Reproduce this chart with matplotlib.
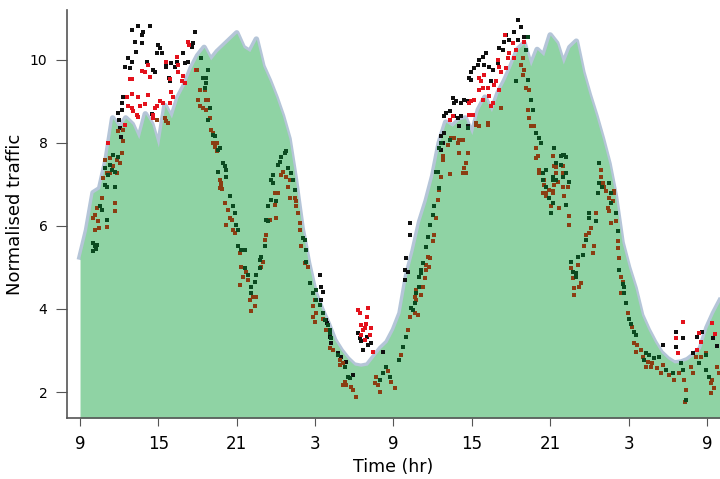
import matplotlib.pyplot as plt
import numpy as np

# hours since 09:00 of day 1, half-hour steps
hours = np.arange(0, 49.01, 0.5)
traffic = [
    5.25, 5.9, 6.8, 6.9, 7.6, 8.6, 8.35, 8.6, 8.45, 8.1,
    8.7, 8.45, 7.9, 8.9, 8.6, 9.1, 9.4, 9.8, 10.1, 10.3,
    10.0, 10.2, 10.35, 10.5, 10.65, 10.3, 10.2, 10.5, 9.85, 9.5,
    9.1, 8.65, 8.1, 7.1, 5.95, 5.1, 4.4, 4.0, 3.65, 3.25,
    3.0, 2.8, 2.65, 2.62, 2.65, 2.85, 3.05, 3.2, 3.5, 3.9,
    4.8, 5.4, 6.1, 6.6, 7.2, 8.0, 8.5, 8.4, 8.55, 8.6,
    8.2, 8.8, 9.1, 8.75, 9.2, 9.5, 9.85, 10.25, 10.4, 9.85,
    10.25, 10.1, 10.6, 10.4, 9.9, 10.3, 10.45, 9.7, 9.15, 8.65,
    8.1, 7.5, 6.7, 5.6, 5.0, 4.5, 3.85, 3.5, 3.2, 2.95,
    2.8, 2.7, 2.72, 2.78, 2.9, 3.05, 3.55, 3.9, 4.2]

# observed points (hour, normalised traffic)
black_pts = [
    (3.95, 10.71), (4.46, 10.82), (4.84, 10.68), (4.71, 10.6), (5.35, 10.82), (4.2, 10.44),
    (4.71, 10.4), (4.28, 10.2), (3.69, 10.04), (3.95, 9.96), (3.44, 9.84), (3.82, 9.8),
    (5.1, 9.96), (5.22, 9.88), (5.6, 9.76), (5.99, 10.36), (6.12, 10.28), (5.86, 10.16),
    (6.24, 10.16), (6.62, 9.92), (7.0, 9.92), (7.26, 9.84), (7.39, 9.96), (7.9, 10.16),
    (8.03, 9.92), (8.28, 9.96), (8.54, 10.32), (8.66, 10.4), (8.79, 10.68), (3.31, 9.1),
    (3.19, 8.8), (3.0, 8.55), (3.11, 8.15), (5.48, 8.7), (6.83, 9.56), (6.88, 9.48),
    (5.73, 9.72), (6.57, 9.84), (2.93, 8.71), (3.06, 8.35), (3.19, 8.96),
    (18.35, 4.82), (18.48, 4.54), (18.6, 4.42), (18.48, 4.22), (18.86, 3.73), (18.9, 3.66),
    (19.11, 3.33), (19.24, 3.17), (19.75, 2.93), (20.0, 2.85), (20.38, 2.73), (20.9, 2.41),
    (21.28, 3.41), (21.4, 3.29), (21.97, 3.32), (21.66, 3.01), (22.04, 3.13), (22.3, 3.17),
    (21.53, 3.22), (23.19, 2.97), (24.85, 4.7), (24.97, 5.22), (25.1, 4.9), (25.23, 6.07),
    (25.23, 5.78), (24.92, 4.94),
    (27.65, 7.83), (27.78, 8.0), (27.65, 8.16), (27.9, 8.24), (27.9, 8.64), (28.03, 8.72),
    (28.67, 8.96), (29.17, 8.64), (28.54, 9.08), (28.79, 9.0), (29.17, 8.96), (29.43, 9.04),
    (29.69, 9.0), (28.29, 8.76), (28.67, 8.64), (28.92, 8.6), (29.05, 8.4), (29.69, 8.4),
    (29.82, 9.56), (29.94, 9.52), (29.94, 9.72), (30.2, 9.8), (30.45, 9.88), (30.58, 10.0),
    (30.83, 10.08), (31.09, 10.16), (30.96, 9.88), (31.35, 9.84), (31.6, 9.76), (31.98, 9.92),
    (31.47, 9.48), (32.1, 10.28), (32.36, 10.24), (32.49, 10.44), (32.62, 10.6), (32.87, 10.48),
    (33.26, 10.68), (33.5, 10.96), (33.77, 10.8), (33.5, 10.48), (34.0, 10.56),
    (44.6, 3.13), (45.62, 3.45), (46.14, 3.29), (45.62, 3.09), (47.27, 3.33), (46.9, 2.93),
    (47.66, 3.45), (48.5, 3.3), (48.8, 3.1)]

red_pts = [
    (8.28, 10.44), (8.35, 10.36), (7.39, 10.08), (7.52, 9.88), (6.62, 9.96), (5.22, 9.88),
    (4.71, 9.74), (4.97, 9.72), (5.35, 9.58), (3.82, 9.53), (3.95, 9.53), (6.88, 9.53),
    (7.52, 9.72), (7.9, 9.6), (8.03, 9.44), (7.77, 9.48), (8.87, 9.76), (3.57, 9.1),
    (3.95, 9.18), (4.41, 9.1), (5.22, 9.16), (3.69, 8.9), (3.95, 8.84), (4.59, 8.9),
    (4.97, 8.93), (5.86, 8.9), (6.12, 9.0), (6.32, 8.95), (5.73, 8.84), (5.6, 8.68),
    (5.55, 8.6), (4.33, 8.68), (4.46, 8.62), (4.08, 8.76), (3.44, 8.44), (2.17, 8.0),
    (7.14, 9.1), (7.0, 9.22), (6.88, 8.95),
    (21.28, 3.98), (22.04, 4.02), (21.4, 3.9), (21.97, 3.81), (21.53, 3.61), (21.92, 3.64),
    (21.79, 3.53), (22.3, 3.53), (21.66, 3.5), (21.53, 3.37), (22.17, 3.37), (22.42, 2.97),
    (21.79, 3.25),
    (32.57, 10.6), (33.13, 10.4), (33.39, 10.24), (32.87, 10.16), (33.26, 10.04), (32.75, 10.04),
    (34.02, 10.44), (32.62, 9.8), (31.98, 10.0), (32.11, 9.84), (32.24, 9.72), (30.96, 9.64),
    (30.58, 9.56), (30.7, 9.48), (31.86, 9.48), (31.73, 9.4), (30.58, 9.28), (30.83, 9.32),
    (31.2, 9.32), (32.11, 9.28), (31.35, 9.12), (30.2, 9.04), (29.94, 9.0), (29.82, 8.96),
    (30.83, 9.04), (31.6, 8.96), (31.47, 8.88), (29.82, 8.68), (30.07, 8.68), (28.54, 8.64),
    (28.29, 8.56),
    (46.14, 3.69), (45.62, 3.29), (47.4, 3.41), (47.53, 3.21), (45.75, 2.93), (47.27, 3.01),
    (48.4, 3.66), (48.6, 3.4)]

green_pts = [
    (1.02, 5.58), (1.15, 5.51), (1.3, 5.55), (1.2, 5.45), (1.02, 5.39), (1.66, 6.39),
    (1.53, 6.47), (2.04, 6.14), (1.91, 6.99), (2.04, 6.95), (2.68, 6.95), (2.17, 7.23),
    (2.42, 7.35), (2.68, 7.3), (2.29, 7.47), (2.55, 7.71), (2.93, 7.67), (1.91, 7.39),
    (9.3, 10.04), (9.43, 9.56), (9.68, 9.56), (9.56, 9.32), (9.81, 8.55), (10.32, 8.16),
    (10.57, 7.83), (10.96, 7.51), (11.21, 7.35), (11.21, 7.19), (11.47, 6.71), (9.81, 9.76),
    (9.68, 9.44), (9.94, 8.84), (10.19, 8.19), (10.7, 7.88), (11.09, 7.44), (10.57, 7.31),
    (11.72, 6.47), (11.85, 6.3), (11.97, 6.02), (12.1, 5.9), (12.1, 5.51), (12.36, 5.42),
    (12.61, 5.42), (12.61, 4.98), (12.87, 4.82), (13.12, 4.54), (13.12, 4.38),
    (13.5, 4.82), (13.38, 4.66), (13.76, 5.18), (13.88, 5.26), (13.76, 4.98), (14.14, 5.51),
    (14.27, 6.14), (14.4, 6.11), (14.4, 6.47), (14.65, 6.63), (15.03, 6.59), (14.78, 7.03),
    (14.65, 7.11), (14.78, 7.23), (15.16, 7.47), (15.29, 7.55), (15.41, 7.67), (15.67, 7.75),
    (15.8, 7.8), (15.93, 7.39), (16.18, 7.27), (16.31, 7.11), (16.44, 6.87), (17.07, 5.7),
    (17.2, 5.66), (17.33, 5.42), (17.33, 5.14), (17.84, 4.38), (18.1, 4.46), (18.35, 4.1),
    (18.6, 3.9), (18.73, 3.73), (18.98, 3.61), (19.11, 3.41), (17.58, 4.62), (18.1, 4.22),
    (19.11, 3.49), (19.24, 3.29), (19.75, 2.89), (20.26, 2.61), (20.51, 2.37), (20.64, 2.33),
    (22.94, 2.29), (23.19, 2.45), (23.44, 2.61), (23.7, 2.37), (24.46, 2.77), (24.71, 3.09),
    (24.97, 3.33), (25.36, 4.02), (25.99, 4.78), (26.12, 4.94), (26.24, 5.1), (25.48, 3.98),
    (25.61, 4.14), (25.74, 4.38), (25.99, 4.54), (26.12, 4.86), (26.5, 5.5), (26.63, 5.74),
    (26.76, 6.02), (27.01, 6.27), (27.14, 6.47), (27.52, 6.91), (27.4, 7.31), (27.65, 8.0),
    (28.29, 8.07), (29.69, 8.36), (27.52, 7.88), (27.27, 7.31), (33.39, 9.48), (34.15, 10.24),
    (34.27, 10.56),
    (34.27, 9.52), (34.53, 9.04), (34.65, 8.8), (34.91, 8.24), (35.17, 8.12), (35.3, 8.0),
    (35.43, 7.27), (35.68, 6.95), (36.31, 7.88), (36.44, 7.51), (36.82, 7.68), (37.08, 7.71),
    (36.95, 7.19), (37.21, 7.27), (36.18, 7.19), (36.44, 7.11), (37.46, 7.07), (36.95, 7.71),
    (37.21, 7.67), (36.82, 7.47), (35.68, 7.35), (35.43, 7.11), (36.18, 7.11), (35.93, 6.67),
    (36.18, 6.55), (37.21, 6.51), (36.06, 6.3), (39.0, 6.3), (39.0, 6.19), (39.5, 6.11),
    (38.74, 5.66), (38.48, 5.3), (38.1, 5.26), (37.59, 5.14), (37.71, 4.9), (37.97, 4.86),
    (37.97, 4.78), (39.76, 7.51), (39.76, 7.03), (40.0, 6.95), (39.63, 6.79), (40.65, 6.55),
    (41.03, 6.3), (41.16, 5.87), (41.29, 4.94), (41.54, 4.6), (41.67, 4.54), (41.67, 4.38),
    (41.8, 4.14), (42.05, 3.77), (42.18, 3.65), (42.43, 3.45), (42.56, 3.37), (43.2, 2.77),
    (43.32, 2.93), (43.58, 2.89), (43.96, 2.81), (44.34, 2.85), (44.86, 2.53), (45.37, 2.45),
    (46.0, 2.69), (46.14, 2.53), (46.39, 1.81), (47.4, 2.69), (47.91, 2.53), (48.17, 2.37),
    (47.95, 2.9), (40.52, 7.03), (40.65, 6.79)]

brown_pts = [
    (1.27, 6.43), (1.15, 6.27), (1.02, 6.19), (1.4, 6.11), (1.15, 5.9), (1.45, 5.95),
    (2.04, 5.98), (1.66, 6.67), (2.68, 6.55), (2.68, 6.35), (1.78, 7.15), (2.04, 7.27),
    (2.3, 7.27), (1.91, 7.6), (2.29, 7.63), (2.8, 7.59), (2.55, 7.45), (2.8, 7.27),
    (3.06, 7.51), (3.19, 7.75), (3.31, 8.04), (2.93, 8.28), (3.31, 8.3), (5.86, 8.55),
    (6.5, 8.59), (6.75, 8.47), (6.62, 8.52),
    (8.92, 9.76), (9.05, 9.04), (9.68, 9.04), (9.17, 8.88), (9.43, 8.84), (9.68, 8.8),
    (10.06, 8.31), (10.19, 8.24), (10.45, 8.0), (10.32, 7.9), (10.7, 7.11), (10.83, 6.99),
    (10.9, 6.9), (9.56, 9.28), (9.17, 9.28), (9.81, 9.04), (9.94, 8.59), (10.19, 8.0),
    (10.45, 7.8), (10.7, 6.91), (10.83, 7.04), (11.09, 6.55), (11.34, 6.39), (11.47, 6.19),
    (11.6, 6.15), (11.21, 6.02), (11.72, 5.9), (11.85, 5.83), (12.23, 5.34), (12.36, 5.02),
    (12.74, 4.9), (12.49, 4.78), (12.23, 4.58), (12.87, 4.7), (13.25, 4.3), (13.0, 4.22),
    (13.38, 4.06), (13.12, 3.94), (13.5, 4.3),
    (14.01, 5.14), (13.88, 5.02), (14.27, 5.78), (14.14, 5.66), (14.53, 6.14), (14.91, 6.51),
    (14.91, 6.79), (15.16, 6.79), (15.03, 6.19), (15.54, 7.31), (15.41, 7.23), (15.8, 7.19),
    (16.06, 7.11), (15.93, 6.95), (16.06, 6.67), (16.44, 6.67), (16.57, 6.59), (16.57, 6.47),
    (16.69, 6.3), (16.82, 6.06), (16.82, 5.9), (16.95, 5.51), (17.2, 5.1), (17.46, 5.02),
    (17.58, 4.62), (17.97, 4.22), (17.84, 4.06), (18.1, 3.9), (17.84, 3.81), (17.97, 3.69),
    (18.86, 3.49), (18.6, 3.77), (19.11, 3.05), (19.37, 3.01), (19.88, 2.77), (20.13, 2.69),
    (19.88, 2.65), (20.26, 2.25), (20.38, 2.17), (20.77, 2.13), (20.9, 2.05), (21.15, 1.89),
    (20.13, 2.17),
    (22.68, 2.37), (22.8, 2.17), (23.57, 2.5), (23.83, 2.25), (24.08, 2.09), (22.94, 2.01),
    (22.55, 2.21), (24.59, 2.89), (25.1, 3.49), (25.23, 3.81), (25.61, 4.3), (25.74, 4.46),
    (26.5, 5.06), (26.63, 5.26), (25.87, 3.86), (25.61, 3.9), (25.74, 4.22), (26.12, 4.34),
    (26.24, 4.54), (26.38, 4.74), (26.5, 4.94), (26.71, 5.02), (26.76, 5.22), (27.01, 5.63),
    (27.14, 5.78), (27.27, 6.18), (27.4, 6.63), (27.52, 6.87), (27.65, 7.19), (27.78, 7.59),
    (28.29, 7.25), (29.3, 7.27), (29.43, 7.39), (29.56, 7.51), (29.69, 7.75), (29.05, 7.75),
    (28.16, 7.95), (28.92, 8.0), (29.3, 8.07), (28.41, 8.12), (28.6, 8.12), (30.32, 8.43),
    (31.2, 8.43), (30.32, 8.48), (30.58, 8.4), (31.2, 8.48), (32.24, 8.84), (28.67, 8.12),
    (29.05, 8.07), (27.78, 7.68), (29.56, 7.27),
    (33.77, 9.88), (34.02, 9.76), (33.89, 10.04), (33.89, 9.64), (34.4, 9.28), (34.15, 9.32),
    (34.27, 8.8), (34.4, 8.6), (34.53, 8.4), (34.78, 8.4), (34.91, 7.88), (35.04, 7.68),
    (35.17, 7.35), (35.55, 7.11), (35.68, 6.71), (35.43, 6.79), (36.18, 7.68), (36.31, 7.44),
    (36.95, 7.44), (36.57, 7.07), (36.31, 6.99), (36.95, 6.95), (36.18, 6.83), (37.08, 6.71),
    (34.91, 7.63), (36.44, 7.43), (36.95, 7.27), (35.17, 7.27), (36.44, 7.27), (35.55, 6.99),
    (35.93, 6.87), (35.68, 6.79), (36.18, 6.79), (37.33, 6.95), (36.06, 6.47), (36.7, 6.43),
    (37.46, 6.23), (37.46, 6.02), (39.5, 6.3), (39.12, 5.94), (38.74, 5.78), (38.99, 5.83),
    (38.61, 5.51), (39.37, 5.51), (39.24, 5.34), (38.1, 5.06), (37.59, 4.98), (37.71, 4.74),
    (38.35, 4.62), (38.23, 4.54), (37.84, 4.5), (37.84, 4.34), (39.88, 7.35), (39.88, 7.19),
    (40.01, 7.03), (40.14, 6.95), (40.9, 6.79), (40.26, 6.83), (40.52, 6.67), (40.9, 6.83),
    (40.78, 6.59), (40.39, 6.43), (40.52, 6.35), (41.03, 6.11), (40.65, 6.06), (41.16, 5.63),
    (41.16, 5.46), (41.29, 5.22), (41.41, 4.78), (41.54, 4.66), (41.41, 4.38), (41.92, 3.9),
    (42.3, 3.57), (42.43, 3.17), (42.68, 3.13), (42.56, 2.97), (42.94, 3.01), (43.07, 2.85),
    (43.45, 2.73), (43.32, 2.61), (43.83, 2.69), (43.7, 2.61), (44.21, 2.57), (44.6, 2.65),
    (44.47, 2.45), (45.11, 2.41), (45.5, 2.29), (45.87, 2.45), (46.26, 2.29), (46.39, 2.05),
    (46.77, 2.61), (46.9, 2.45), (47.15, 2.85), (47.53, 2.85), (48.29, 2.21), (48.42, 2.29),
    (48.55, 2.09), (47.91, 2.93), (48.29, 1.97), (46.3, 1.76), (48.8, 2.6), (48.9, 2.45)]

tick_hours = [0, 6, 12, 18, 24, 30, 36, 42, 48]
tick_labels = ['9', '15', '21', '3', '9', '15', '21', '3', '9']
y_ticks = [2, 4, 6, 8, 10]

fig = plt.figure(figsize=(7.2, 4.79), dpi=100)
ax = fig.add_axes([0.093, 0.127, 0.907, 0.852])

ymin = 1.37
ax.plot(hours, traffic, color='#9cb2cc', lw=4.0, alpha=0.75, zorder=1,
        solid_joinstyle='round')
ax.fill_between(hours, ymin, traffic, color='#8fd3a4', lw=0, zorder=2)

for pts, col in [(black_pts, '#101010'), (red_pts, '#e3121c'),
                 (brown_pts, '#8b3d12'), (green_pts, '#0b4a20')]:
    t, v = zip(*pts)
    ax.scatter(t, v, s=6, marker='s', color=col, linewidths=0, zorder=3)

ax.set_xlim(-1, 49)
ax.set_ylim(ymin, 11.2)
ax.set_xticks(tick_hours)
ax.set_xticklabels(tick_labels, fontsize=12)
ax.set_yticks(y_ticks)
ax.tick_params(axis='y', labelsize=10, length=8, color='#555555', pad=6)
ax.tick_params(axis='x', length=6, color='#555555', pad=6)

for s in ['top', 'right']:
    ax.spines[s].set_visible(False)
for s in ['left', 'bottom']:
    ax.spines[s].set_color('#555555')
    ax.spines[s].set_linewidth(1.2)

ax.set_xlabel('Time (hr)', fontsize=12.5, labelpad=4)
ax.set_ylabel('Normalised traffic', fontsize=13, labelpad=4)

fig.savefig('out.png', dpi=100)
